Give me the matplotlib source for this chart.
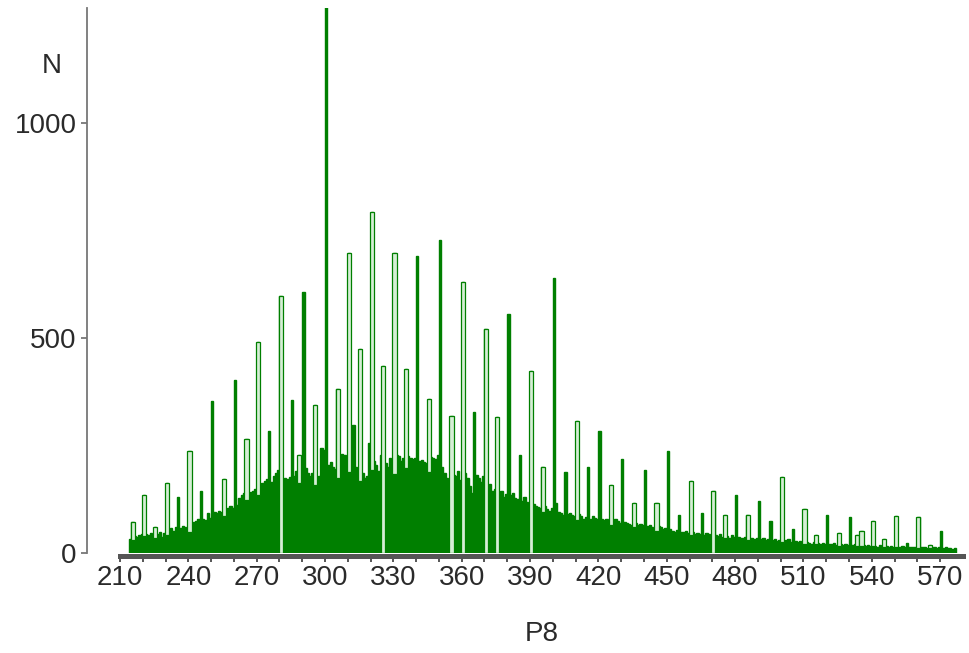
import matplotlib
matplotlib.use("Agg")
import matplotlib.pyplot as plt

# ---- data (integer P8 values starting at first_value, one count per value) ----
first_value = 214
counts = [
    33, 72, 40, 38, 42, 44,                                   # 214-219
    135, 44, 42, 46, 40, 61, 44, 48, 38, 46,                  # 220-229
    163, 55, 58, 52, 60, 130, 58, 62, 60, 55,                 # 230-239
    238, 66, 72, 75, 78, 145, 80, 77, 93, 82,                 # 240-249
    354, 95, 92, 97, 96, 172, 100, 105, 110, 104,             # 250-259
    403, 112, 128, 135, 140, 266, 137, 143, 145, 150,         # 260-269
    490, 152, 163, 168, 172, 284, 165, 178, 185, 193,         # 270-279
    597, 170, 174, 172, 176, 355, 178, 190, 228, 180,         # 280-289
    607, 198, 186, 180, 185, 345, 175, 180, 245, 240,         # 290-299
    1270, 205, 212, 200, 195, 382, 225, 230, 228, 226,        # 300-309
    697, 210, 297, 200, 190, 475, 186, 175, 180, 256,         # 310-319
    793, 215, 205, 190, 228, 434, 210, 200, 221, 205,         # 320-329
    697, 228, 225, 215, 220, 429, 225, 221, 218, 220,         # 330-339
    690, 215, 217, 212, 210, 359, 224, 220, 218, 228,         # 340-349
    728, 200, 186, 175, 165, 318, 182, 178, 190, 170,         # 350-359
    630, 185, 175, 155, 140, 328, 182, 175, 165, 180,         # 360-369
    522, 150, 160, 145, 148, 317, 140, 145, 130, 138,         # 370-379
    555, 135, 140, 128, 125, 228, 120, 130, 118, 112,         # 380-389
    424, 115, 110, 108, 105, 200, 110, 102, 98, 105,          # 390-399
    639, 117, 95, 92, 88, 188, 90, 94, 88, 85,                # 400-409
    308, 90, 86, 80, 84, 200, 78, 85, 82, 80,                 # 410-419
    284, 78, 76, 80, 75, 158, 72, 78, 74, 70,                 # 420-429
    219, 72, 70, 68, 66, 116, 70, 65, 68, 64,                 # 430-439
    192, 62, 65, 60, 58, 116, 62, 60, 56, 58,                 # 440-449
    238, 55, 52, 50, 54, 88, 50, 48, 52, 47,                  # 450-459
    168, 48, 45, 46, 44, 94, 42, 46, 44, 40,                  # 460-469
    145, 42, 40, 44, 38, 88, 40, 36, 42, 38,                  # 470-479
    135, 38, 36, 35, 37, 88, 34, 36, 32, 35,                  # 480-489
    122, 33, 35, 30, 32, 75, 30, 33, 28, 30,                  # 490-499
    177, 28, 30, 32, 26, 56, 28, 25, 27, 24,                  # 500-509
    103, 26, 24, 22, 25, 42, 23, 20, 24, 22,                  # 510-519
    88, 22, 20, 23, 19, 46, 21, 18, 20, 19,                   # 520-529
    84, 18, 20, 42, 17, 51, 19, 16, 18, 17,                   # 530-539
    75, 17, 15, 18, 16, 32, 16, 14, 17, 15,                   # 540-549
    87, 15, 14, 16, 13, 23, 15, 13, 14, 15,                   # 550-559
    84, 14, 13, 15, 12, 19, 13, 14, 12, 13,                   # 560-569
    51, 12, 13, 11, 12, 10, 11,                               # 570-576
]
values = list(range(first_value, first_value + len(counts)))
bin_edges = list(range(first_value, first_value + len(counts) + 1))

# bars that look hollow (outlined) in the reference
hollow_values = [215, 220, 225, 230, 240, 255, 265, 270, 280, 288, 295, 305,
                 310, 315, 320, 325, 330, 335, 345, 355, 360, 370, 375, 390,
                 395, 410, 425, 435, 445, 460, 470, 475, 485, 500, 510, 515,
                 525, 533, 535, 540, 545, 550, 560, 565]
# hollow bars whose light interior runs down to the base
through_values = [280, 325, 355, 360, 370, 375, 390, 470]

x_major = list(range(210, 571, 30))
x_minor = list(range(210, 580, 10))
y_ticks = [0, 500, 1000]

GREEN = "#007f00"
LIGHT = "#d6eed6"
AXC = "#555555"
TXT = "#2a2a2a"
FONT = "Liberation Sans"

W, H = 969, 653
fig = plt.figure(figsize=(W / 100, H / 100), dpi=100)
ax = fig.add_axes([87 / W, 1 - 553 / H, (963 - 87) / W, (553 - 8) / H])

# histogram body: one step per integer value
ax.stairs(counts, bin_edges, fill=True, color=GREEN, linewidth=0, zorder=2)
ax.stairs(counts, bin_edges, fill=False, color=GREEN, linewidth=1.0, zorder=2)

idx = {v: i for i, v in enumerate(values)}
for hv in hollow_values:
    i = idx[hv]
    h = counts[i]
    if hv in through_values:
        base = 0
    else:
        nb = [counts[j] for j in (i - 1, i + 1) if 0 <= j < len(counts)]
        base = min(nb) * 0.9
    ax.bar(hv + 0.5, h - base, bottom=base, width=1.8, align="center",
           facecolor=LIGHT, edgecolor=GREEN, linewidth=0.9, zorder=3)

ax.set_xlim(195.5, 580.06)
ax.set_ylim(0, 1268)

for s in ("top", "right"):
    ax.spines[s].set_visible(False)
ax.spines["bottom"].set_bounds(210, 580)
ax.spines["bottom"].set_linewidth(3.6)
ax.spines["bottom"].set_color(AXC)
ax.spines["bottom"].set_position(("outward", 1.8))
ax.spines["left"].set_linewidth(1.3)
ax.spines["left"].set_color("#777777")

ax.set_xticks(x_major)
ax.set_xticks(x_minor, minor=True)
ax.set_xticklabels([str(v) for v in x_major], fontfamily=FONT, fontsize=20, color=TXT)
ax.tick_params(axis="x", which="both", length=4, width=1.4, color=AXC,
               direction="out", pad=3)
ax.set_yticks(y_ticks)
ax.set_yticklabels([str(v) for v in y_ticks], fontfamily=FONT, fontsize=20, color=TXT)
ax.tick_params(axis="y", length=4.5, width=1.3, color="#777777", pad=3)

fig.text(52 / W, 1 - 66 / H, "N", ha="center", va="center",
         fontfamily=FONT, fontsize=20, color=TXT)
fig.text(542 / W, 1 - 634 / H, "P8", ha="center", va="center",
         fontfamily=FONT, fontsize=20, color=TXT)

fig.savefig("out.png", dpi=100)
